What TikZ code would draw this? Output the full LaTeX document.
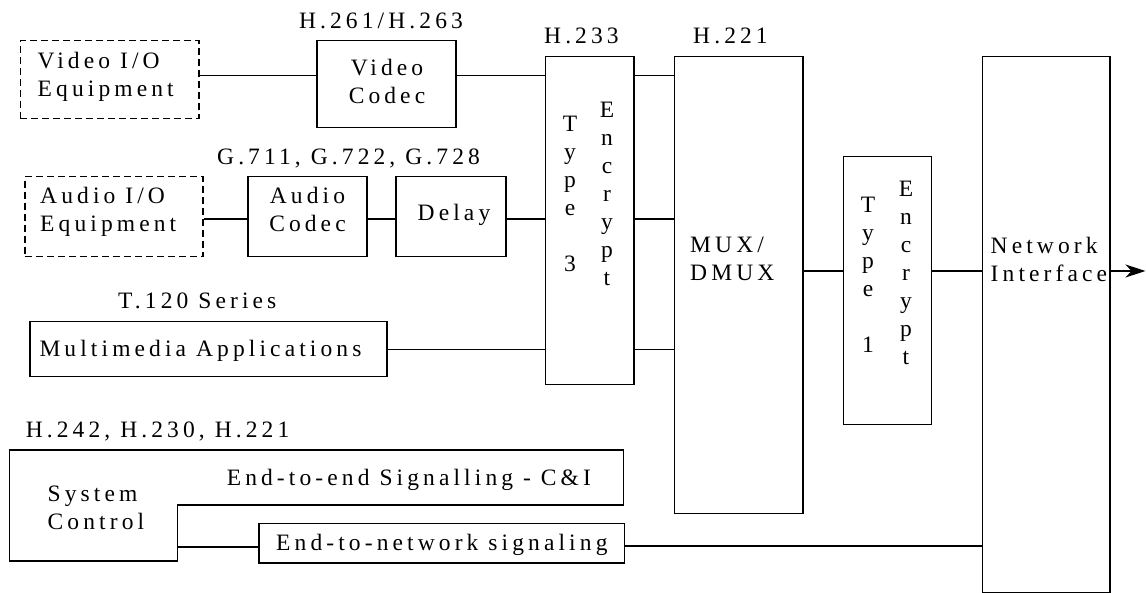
\documentclass[tikz,border=0pt]{standalone}
\usepackage{fontspec}
\setmainfont{Liberation Serif}[LetterSpace=17.5]
\usetikzlibrary{arrows.meta}
\newcommand{\mytl}[1]{\begin{tabular}[t]{@{}l@{}}#1\end{tabular}}
\newcommand{\mytc}[1]{\begin{tabular}[t]{@{}c@{}}#1\end{tabular}}
\begin{document}
\begin{tikzpicture}[x=1pt,y=-1pt,
  every node/.style={font=\fontsize{23.5}{28}\selectfont, inner sep=0pt},
  box/.style={draw, line width=1.5pt, anchor=north west},
  dbox/.style={box, dash pattern=on 7pt off 4pt},
  txt/.style={anchor=base west},
  ctxt/.style={anchor=base},
  conn/.style={line width=1.5pt}]
\useasboundingbox (0,0) rectangle (1146,593);
% boxes
\node[dbox, minimum width=178.4pt, minimum height=78pt] (vio) at (19.6,40) {};
\node[box, minimum width=139pt, minimum height=87pt] (vc) at (316,40) {};
\node[dbox, minimum width=178pt, minimum height=80pt] (aio) at (24,176) {};
\node[box, minimum width=119pt, minimum height=80pt] (ac) at (247,176) {};
\node[box, minimum width=110pt, minimum height=80pt] (dl) at (395,176) {};
\node[box, minimum width=356.7pt, minimum height=55pt] (mm) at (29.3,321) {};
\node[box, minimum width=88.7pt, minimum height=328.3pt] (t3) at (544.7,55.7) {};
\node[box, minimum width=128.5pt, minimum height=457pt] (mux) at (673.7,55.7) {};
\node[box, minimum width=88.3pt, minimum height=268pt] (t1) at (842.5,156) {};
\node[box, minimum width=127.5pt, minimum height=536pt] (ni) at (981.5,55.7) {};
\node[box, minimum width=365.5pt, minimum height=39.6pt] (en) at (258,522.7) {};
% system control outline
\coordinate (sca) at (9.5,450);
\coordinate (scb) at (623.5,450);
\coordinate (scc) at (623.5,505);
\coordinate (scd) at (177.6,505);
\coordinate (sce) at (177.6,561);
\coordinate (scf) at (9.5,561);
\draw[conn] (sca) -- (scb) -- (scc) -- (scd) -- (sce) -- (scf) -- cycle;
\coordinate (scj) at (177.6,547);
\coordinate (out) at (1145.5,271);
% texts
\node[ctxt] (lh261) at (381,28.3) {H.261/H.263};
\node[txt] (lh233) at (544,44) {H.233};
\node[txt] (lh221) at (693,44) {H.221};
\node[txt] (lg711) at (217,165) {G.711, G.722, G.728};
\node[txt] (lt120) at (118,308.3) {T.120 Series};
\node[txt] (lh242) at (25.6,437) {H.242, H.230, H.221};
\node[txt] (tvio) at (37.5,68.3) {\mytl{Video I/O\\Equipment}};
\node[ctxt] (tvc) at (387,76) {\mytc{Video\\Codec}};
\node[txt] (taio) at (40,204) {\mytl{Audio I/O\\Equipment}};
\node[ctxt] (tac) at (307.5,204) {\mytc{Audio\\Codec}};
\node[ctxt] (tdl) at (454,221) {Delay};
\node[txt] (tmm) at (39.3,356.7) {Multimedia Applications};
\node[ctxt] (tt3a) at (570,132) {\mytc{T\\y\\p\\e\\ \\3}};
\node[ctxt] (tt3b) at (607,117.3) {\mytc{E\\n\\c\\r\\y\\p\\t}};
\node[ctxt] (tt1a) at (868,213) {\mytc{T\\y\\p\\e\\ \\1}};
\node[ctxt] (tt1b) at (906,197) {\mytc{E\\n\\c\\r\\y\\p\\t}};
\node[txt] (tmux) at (690,253) {\mytl{MUX/\\DMUX}};
\node[txt] (tni) at (990.5,253.3) {\mytl{Network\\Interface}};
\node[txt] (tsc) at (47.5,501.7) {\mytl{System\\Control}};
\node[txt] (tee) at (226.6,485) {End-to-end Signalling - C\&I};
\node[txt] (ten) at (276,550.7) {End-to-network signaling};
% connectors
\draw[conn] (vio.east |- 0,75.7) -- (vc.west |- 0,75.7);
\draw[conn] (vc.east |- 0,75.7) -- (t3.west |- 0,75.7);
\draw[conn] (t3.east |- 0,75.7) -- (mux.west |- 0,75.7);
\draw[conn] (aio.east |- 0,219) -- (ac.west |- 0,219);
\draw[conn] (ac.east |- 0,219) -- (dl.west |- 0,219);
\draw[conn] (dl.east |- 0,219) -- (t3.west |- 0,219);
\draw[conn] (t3.east |- 0,219) -- (mux.west |- 0,219);
\draw[conn] (mm.east |- 0,349.5) -- (t3.west |- 0,349.5);
\draw[conn] (t3.east |- 0,349.5) -- (mux.west |- 0,349.5);
\draw[conn] (mux.east |- out) -- (t1.west |- out);
\draw[conn] (t1.east |- out) -- (ni.west |- out);
\draw[conn, -{Stealth[length=20pt,width=13pt,inset=6pt]}] (ni.east |- out) -- (out);
\draw[conn] (scj) -- (en.west |- scj);
\draw[conn] (en.east |- 0,546) -- (ni.west |- 0,546);
\end{tikzpicture}
\end{document}
